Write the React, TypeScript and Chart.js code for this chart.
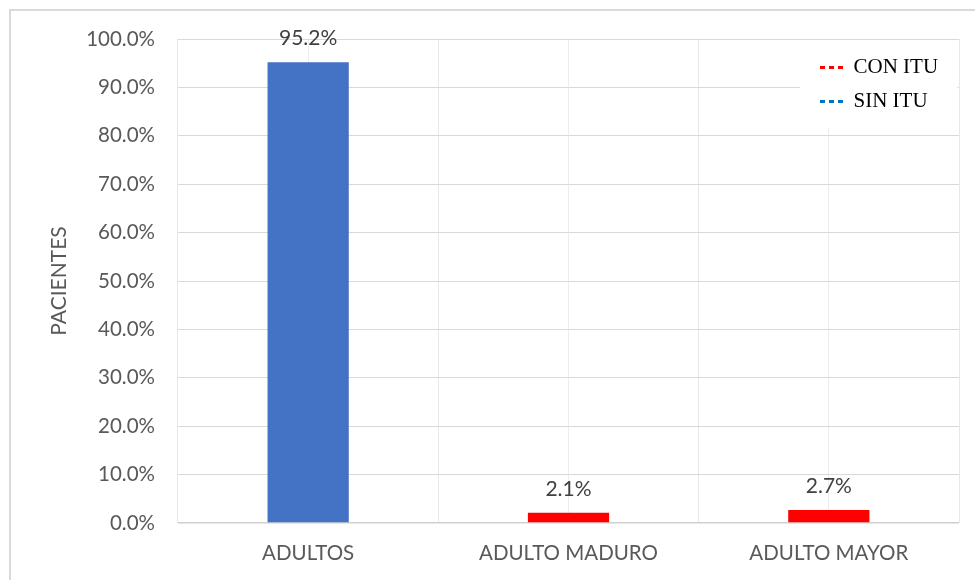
import React, { useEffect, useRef } from "react";
import { Chart, registerables } from "chart.js";

Chart.register(...registerables);

const categories = ["ADULTOS", "ADULTO MADURO", "ADULTO MAYOR"];
const conItu = [null, 2.1, 2.7];
const sinItu = [95.2, null, null];
const seriesNames = ["CON ITU", "SIN ITU"];
const barColors = ["#FF0000", "#4472C4"];
const legendColors = ["#FF0000", "#0070C0"];
const yMin = 0;
const yMax = 100;
const yStep = 10;

const TICK_FONT = { family: "Lato", size: 20.5 };

const framePlugin = {
  id: "frame",
  beforeDraw(chart: any) {
    const { ctx, width, height } = chart;
    ctx.save();
    ctx.fillStyle = "#ffffff";
    ctx.fillRect(0, 0, width, height);
    ctx.strokeStyle = "#d9d9d9";
    ctx.lineWidth = 2;
    ctx.strokeRect(10, 10, width + 20, height + 20);
    ctx.restore();
  },
};

const legendPlacePlugin = {
  id: "legendPlace",
  afterLayout(chart: any) {
    const lg = chart.legend;
    const ca = chart.chartArea;
    if (!lg || !ca) return;
    const w = lg.width;
    const h = lg.height;
    lg.left = ca.right - 152;
    lg.right = lg.left + w;
    lg.top = ca.top + 5;
    lg.bottom = lg.top + h;
  },
  afterDraw(chart: any) {
    const lg = chart.legend;
    const ca = chart.chartArea;
    if (!lg || !ca) return;
    const ctx = chart.ctx;
    ctx.save();
    ctx.fillStyle = "#ffffff";
    ctx.fillRect(ca.right - 159, ca.top + 1, 157.5, 88);
    ctx.restore();
    lg.draw();
  },
};

const valueLabelPlugin = {
  id: "valueLabels",
  afterDatasetsDraw(chart: any) {
    const ctx = chart.ctx;
    ctx.save();
    ctx.fillStyle = "#404040";
    ctx.font = "21px Lato";
    ctx.textAlign = "center";
    ctx.textBaseline = "middle";
    chart.data.datasets.forEach((ds: any, di: number) => {
      const meta = chart.getDatasetMeta(di);
      meta.data.forEach((el: any, i: number) => {
        const v = ds.data[i];
        if (v === null || v === undefined) return;
        ctx.fillText(v.toFixed(1) + "%", el.x, el.y - 24);
      });
    });
    ctx.restore();
  },
};

export default function App() {
  const ref = useRef<HTMLCanvasElement | null>(null);

  useEffect(() => {
    if (!ref.current) return;
    const chart = new Chart(ref.current, {
      type: "bar",
      data: {
        labels: categories,
        datasets: [
          {
            label: seriesNames[0],
            data: conItu,
            backgroundColor: barColors[0],
            grouped: false,
            xAxisID: "x",
            yAxisID: "y",
          } as any,
          {
            label: seriesNames[1],
            data: sinItu,
            backgroundColor: barColors[1],
            grouped: false,
            xAxisID: "x",
            yAxisID: "y",
          } as any,
        ],
      },
      options: {
        animation: false,
        responsive: true,
        maintainAspectRatio: false,
        layout: { padding: { left: 10, top: 39, right: 16, bottom: 14 } },
        datasets: { bar: { categoryPercentage: 1, barPercentage: 0.312 } } as any,
        plugins: {
          tooltip: { enabled: false },
          legend: {
            position: "chartArea" as any,
            align: "start",
            labels: {
              usePointStyle: true,
              pointStyleWidth: 23,
              padding: 13,
              color: "#000000",
              font: { family: "Liberation Serif", size: 21 },
              generateLabels: (c: any) =>
                c.data.datasets.map((ds: any, i: number) => ({
                  text: ds.label,
                  fillStyle: legendColors[i],
                  strokeStyle: legendColors[i],
                  fontColor: "#000000",
                  lineWidth: 3,
                  lineDash: [5, 4],
                  pointStyle: "line",
                  hidden: false,
                  datasetIndex: i,
                })),
            },
          },
        },
        scales: {
          x: {
            type: "category",
            offset: true,
            position: "bottom",
            grid: { offset: false, color: "#ececec", lineWidth: 1, drawTicks: false },
            border: { display: false },
            ticks: { padding: 18, color: "#595959", font: TICK_FONT },
            afterFit: (s: any) => {
              s.height = 43;
            },
          },
          x2: {
            type: "category",
            labels: categories,
            offset: true,
            position: "bottom",
            grid: {
              offset: true,
              color: "#e8e8e8",
              lineWidth: (ctx: any) => (ctx.index === categories.length ? 2.5 : 1),
              drawTicks: false,
            },
            border: { display: false },
            ticks: { display: false },
          },
          y: {
            min: yMin,
            max: yMax,
            grid: {
              color: (ctx: any) => (ctx.index === 0 ? "#d0d0d0" : "#d9d9d9"),
              lineWidth: (ctx: any) => (ctx.index === 0 ? 1.5 : 1),
              drawTicks: false,
            },
            border: { display: false },
            ticks: {
              stepSize: yStep,
              padding: 23,
              color: "#595959",
              font: TICK_FONT,
              callback: (v: any) => Number(v).toFixed(1) + "%",
            },
            title: {
              display: true,
              text: "PACIENTES",
              color: "#595959",
              font: { family: "Lato", size: 21 },
              padding: { top: 37, bottom: 0 },
            },
            afterFit: (s: any) => {
              s.width = 168;
            },
          },
        },
      },
      plugins: [framePlugin, legendPlacePlugin, valueLabelPlugin],
    });
    return () => chart.destroy();
  }, []);

  return (
    <div style={{ position: "absolute", left: 0, top: 0, width: 975, height: 580 }}>
      <canvas ref={ref} />
    </div>
  );
}
